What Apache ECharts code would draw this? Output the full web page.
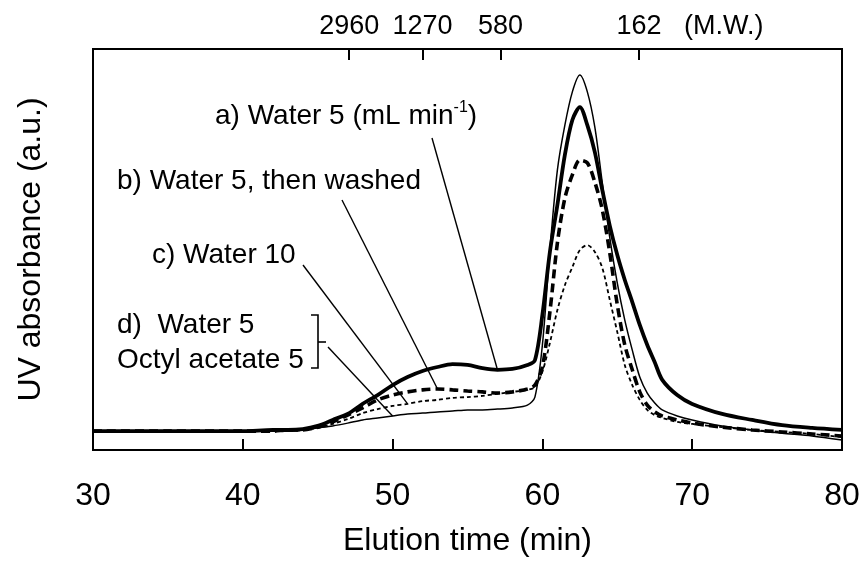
<!DOCTYPE html>
<html><head><meta charset="utf-8">
<script src="https://cdn.jsdelivr.net/npm/echarts@6/dist/echarts.min.js"></script>
<style>html,body{margin:0;padding:0;background:#fff}#c{width:863px;height:568px}</style>
</head><body><div id="c"></div>
<script>
// Elution time (min)
const times = [30, 35, 40, 42, 43, 44, 45, 46, 47, 48, 49, 50, 51, 52, 53, 54, 55, 56, 57, 58, 59, 59.5,
  60, 60.5, 61, 61.5, 62, 62.5, 63, 63.5, 64, 64.5, 65, 65.5, 66, 66.5, 67, 67.5, 68, 69, 70, 72, 74, 76, 78, 80];
// a) Water 5 (thick solid)
const absA = [4.7, 4.7, 4.7, 5.0, 5.0, 5.2, 6.0, 7.5, 9.0, 11.5, 13.7, 16.2, 18.2, 19.7, 20.7, 21.4, 21.2, 20.4, 20.0, 20.2, 21.2, 22.4,
  33.7, 49.4, 61.1, 73.6, 82.3, 85.5, 81.0, 74.3, 64.8, 55.9, 48.6, 42.4, 36.9, 31.2, 26.2, 21.9, 17.5, 13.7, 11.5, 9.0, 7.5, 6.2, 5.5, 5.0];
// b) Water 5, then washed (thick dashed)
const absB = [4.7, 4.7, 4.7, 4.7, 5.0, 5.0, 5.7, 7.0, 8.7, 10.5, 12.5, 13.7, 14.5, 15.0, 15.2, 15.0, 14.7, 14.5, 14.2, 14.5, 15.2, 16.2,
  20.7, 34.4, 51.6, 62.8, 68.6, 72.3, 71.6, 66.8, 59.9, 49.1, 36.2, 26.2, 20.0, 14.5, 11.2, 9.5, 8.5, 7.5, 6.7, 5.7, 5.0, 4.5, 4.0, 3.5];
// c) Water 10 (thin dashed)
const absC = [4.7, 4.7, 4.7, 4.7, 4.7, 5.0, 5.5, 6.5, 7.7, 9.2, 10.2, 11.0, 11.5, 12.2, 12.5, 13.0, 13.2, 13.5, 14.0, 14.5, 15.0, 15.7,
  19.5, 26.7, 34.9, 41.1, 45.6, 49.9, 51.1, 49.4, 45.4, 37.4, 29.4, 21.2, 16.2, 12.5, 10.0, 8.7, 8.0, 7.0, 6.5, 5.7, 5.0, 4.5, 4.0, 3.2];
// d) Water 5 + Octyl acetate 5 (thin solid)
const absD = [4.7, 4.7, 4.7, 4.7, 4.7, 5.0, 5.5, 6.0, 6.7, 7.5, 8.0, 8.5, 9.0, 9.2, 9.5, 9.7, 10.0, 10.0, 10.2, 10.5, 11.2, 13.2,
  26.2, 49.9, 69.8, 81.0, 89.3, 93.5, 89.3, 80.5, 66.6, 52.9, 41.6, 32.4, 24.9, 18.2, 14.2, 11.7, 10.0, 8.5, 7.5, 6.0, 5.0, 4.2, 3.5, 2.5];

// Molecular weight calibration marks (top axis)
const mwTimes = [47.1, 52.0, 57.2, 66.45];
const mwLabels = ['2960', '1270', '580', '162'];
const mwNoteTime = 72.1;
const mwNote = '(M.W.)';

// Annotation texts and the elution time where each leader touches its curve
const labelTexts = ['a) Water 5 (mL min{sup|-1})', 'b) Water 5, then washed', 'c) Water 10', 'd)  Water 5', 'Octyl acetate 5'];
const leaderTimes = [57, 53, 51, 50];

const FONT = '"Liberation Sans", Arial, "Noto Sans", sans-serif';
const chart = echarts.init(document.getElementById('c'), null, {renderer: 'canvas'});

function mk(name, arr, width, type) {
  return {
    name: name, type: 'line', showSymbol: false, symbol: 'none', smooth: 0.3,
    data: times.map((t, i) => [t, arr[i]]),
    lineStyle: {color: '#000', width: width, type: type},
    itemStyle: {color: '#000'}, z: 3
  };
}

chart.setOption({
  animation: false,
  backgroundColor: '#fff',
  grid: {left: 93, right: 21, top: 49, bottom: 118, show: true, borderColor: '#000', borderWidth: 2, backgroundColor: 'transparent'},
  xAxis: [{
    type: 'value', min: 30, max: 80, interval: 10, position: 'bottom',
    axisLine: {show: true, lineStyle: {color: '#000', width: 2}},
    axisTick: {show: true, inside: true, length: 11, lineStyle: {color: '#000', width: 2}},
    axisLabel: {color: '#000', fontSize: 32, fontFamily: FONT, margin: 30},
    splitLine: {show: false},
    name: 'Elution time (min)', nameLocation: 'middle', nameGap: 75,
    nameTextStyle: {color: '#000', fontSize: 32, fontFamily: FONT}
  }, {
    type: 'value', min: 30, max: 80, position: 'top',
    axisLine: {show: true, lineStyle: {color: '#000', width: 2}},
    axisTick: {show: true, inside: true, length: 11, customValues: mwTimes, lineStyle: {color: '#000', width: 2}},
    axisLabel: {
      color: '#000', fontSize: 27, fontFamily: FONT, margin: 9,
      customValues: mwTimes.concat([mwNoteTime]),
      formatter: function (v) {
        for (let i = 0; i < mwTimes.length; i++) if (Math.abs(v - mwTimes[i]) < 1e-6) return mwLabels[i];
        if (Math.abs(v - mwNoteTime) < 1e-6) return mwNote;
        return '';
      }
    },
    splitLine: {show: false}
  }],
  yAxis: {
    type: 'value', min: 0, max: 100,
    axisLine: {show: true, lineStyle: {color: '#000', width: 2}},
    axisTick: {show: false}, axisLabel: {show: false}, splitLine: {show: false},
    name: 'UV absorbance (a.u.)', nameLocation: 'middle', nameGap: 46, nameRotate: 90,
    nameTextStyle: {color: '#000', fontSize: 32, fontFamily: FONT}
  },
  series: [
    mk('a', absA, 3.8, 'solid'),
    mk('b', absB, 3.6, [9, 5]),
    mk('c', absC, 1.8, [4, 3]),
    mk('d', absD, 1.5, 'solid')
  ]
});

// annotations
const seriesArrs = [absA, absB, absC, absD];
const textPos = [[215, 116], [117, 181], [152, 255], [117, 325], [117, 360]];
const leaderStart = [[432, 138], [342, 200], [303, 265], [328, 347]];
const g = [];
labelTexts.forEach((txt, i) => {
  g.push({
    type: 'text', x: textPos[i][0], y: textPos[i][1], z: 10,
    style: {
      text: txt, fill: '#000', fontSize: 28, fontFamily: FONT,
      textAlign: 'left', verticalAlign: 'middle', textVerticalAlign: 'middle', lineHeight: 32,
      rich: {sup: {fontSize: 16, fontFamily: FONT, fill: '#000', verticalAlign: 'top', lineHeight: 16}}
    }
  });
});
leaderTimes.forEach((t, i) => {
  const idx = times.indexOf(t);
  const p = chart.convertToPixel({xAxisIndex: 0, yAxisIndex: 0}, [t, seriesArrs[i][idx]]);
  g.push({type: 'line', z: 10, shape: {x1: leaderStart[i][0], y1: leaderStart[i][1], x2: p[0], y2: p[1]},
    style: {stroke: '#000', lineWidth: 1.4}});
});
g.push({type: 'polyline', z: 10, shape: {points: [[311, 315], [318, 315], [318, 368], [311, 368]]},
  style: {stroke: '#000', lineWidth: 1.6, fill: null}});
g.push({type: 'line', z: 10, shape: {x1: 318, y1: 342, x2: 326, y2: 342}, style: {stroke: '#000', lineWidth: 1.6}});
chart.setOption({graphic: g});
</script>
</body></html>
